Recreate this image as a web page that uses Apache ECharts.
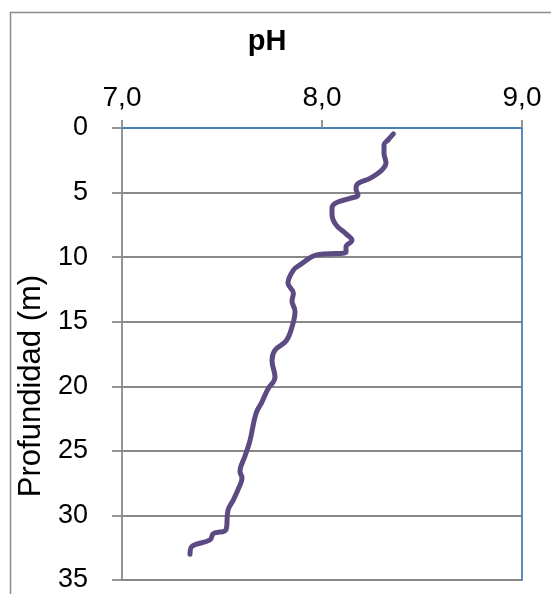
<!DOCTYPE html>
<html>
<head>
<meta charset="utf-8">
<script src="https://cdn.jsdelivr.net/npm/echarts@6/dist/echarts.min.js"></script>
<style>html,body{margin:0;padding:0;background:#fff;}#c{width:551px;height:594px;}</style>
</head>
<body>
<div id="c"></div>
<script>
var phTicks = [7, 8, 9];
var depthTicks = [0, 5, 10, 15, 20, 25, 30, 35];
var phValues = [8.357, 8.33, 8.31, 8.31, 8.32, 8.30, 8.24, 8.18, 8.17, 8.18, 8.14, 8.07, 8.05, 8.05, 8.07, 8.12, 8.15, 8.12, 8.12, 7.97, 7.89, 7.857, 7.83, 7.857, 7.85, 7.865, 7.85, 7.82, 7.765, 7.75, 7.765, 7.73, 7.70, 7.67, 7.64, 7.615, 7.59, 7.60, 7.58, 7.557, 7.53, 7.52, 7.457, 7.44, 7.35, 7.34];
var depthValues = [0.46, 0.93, 1.3, 1.96, 2.7, 3.25, 3.9, 4.3, 4.7, 5.2, 5.45, 5.8, 6.2, 6.7, 7.5, 8.2, 8.7, 9.2, 9.6, 9.85, 10.6, 11.0, 12.0, 12.8, 13.4, 14.2, 15.4, 16.5, 17.2, 18.0, 19.3, 20.2, 21.2, 22.1, 24.2, 25.4, 26.6, 27.1, 28.0, 28.8, 29.6, 31.1, 31.4, 31.9, 32.4, 33.0];

var pts = phValues.map(function (v, i) { return [v, depthValues[i]]; });
var chart = echarts.init(document.getElementById('c'));
var font = 'Liberation Sans';
chart.setOption({
  animation: false,
  textStyle: { fontFamily: font },
  graphic: [{
    type: 'rect', left: 8, top: 10,
    shape: { width: 600, height: 600 },
    style: { fill: 'none', stroke: '#8c8c8c', lineWidth: 1.5 },
    z: -1
  }],
  title: {
    text: 'pH', left: 262, top: 22, textAlign: 'center',
    textStyle: { fontFamily: font, fontSize: 29, fontWeight: 'bold', color: '#000' }
  },
  grid: { left: 122, top: 128, right: 29, bottom: 14 },
  xAxis: [{
    type: 'value', position: 'top', min: phTicks[0], max: phTicks[phTicks.length - 1], interval: 1,
    axisLine: { show: true, lineStyle: { color: '#898989', width: 1.8 } },
    axisTick: { show: true, length: 8, lineStyle: { color: '#898989', width: 1.8 } },
    splitLine: { show: false },
    axisLabel: { fontFamily: font, fontSize: 28, color: '#000', margin: 16,
      formatter: function (v) { return v.toFixed(1).replace('.', ','); } }
  }, {
    type: 'value', position: 'bottom', min: 7, max: 9,
    axisLine: { show: true, lineStyle: { color: '#4a7ebb', width: 1.8 } },
    axisTick: { show: false }, axisLabel: { show: false }, splitLine: { show: false }
  }],
  yAxis: [{
    type: 'value', inverse: true, min: depthTicks[0], max: depthTicks[depthTicks.length - 1], interval: 5,
    name: 'Profundidad (m)', nameLocation: 'middle', nameGap: 70,
    nameTextStyle: { fontFamily: font, fontSize: 31, color: '#000', padding: [0, 64, 0, 0] },
    axisLine: { show: true, lineStyle: { color: '#898989', width: 1.8 } },
    axisTick: { show: true, length: 10, lineStyle: { color: '#898989', width: 1.8 } },
    splitLine: { show: true, lineStyle: { color: '#898989', width: 1.8 } },
    axisLabel: { fontFamily: font, fontSize: 27, color: '#000', margin: 34 }
  }, {
    type: 'value', position: 'right', inverse: true, min: 0, max: 35,
    axisLine: { show: true, lineStyle: { color: '#4a7ebb', width: 1.8 } },
    axisTick: { show: false }, axisLabel: { show: false }, splitLine: { show: false }
  }],
  series: [{
    type: 'line', xAxisIndex: 0, yAxisIndex: 0, data: pts,
    showSymbol: false, symbol: 'none', smooth: 0.4,
    lineStyle: { color: '#5c4a82', width: 5, cap: 'round', join: 'round' }
  }]
});
</script>
</body>
</html>
